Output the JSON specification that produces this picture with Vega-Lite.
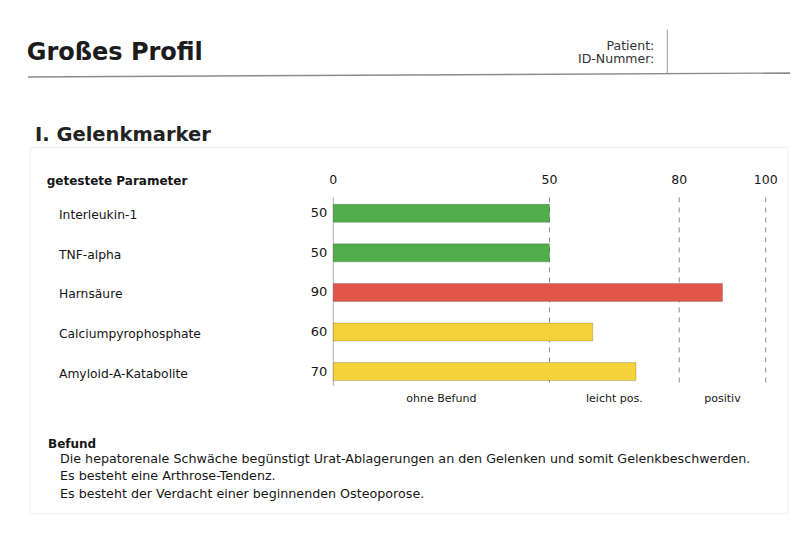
{
  "$schema": "https://vega.github.io/schema/vega-lite/v6.json",
  "description": "Großes Profil – I. Gelenkmarker: tested joint markers scored 0–100 with result zones.",
  "width": 800,
  "height": 544,
  "autosize": {"type": "none"},
  "padding": 0,
  "background": "white",
  "config": {
    "view": {"stroke": null},
    "axis": {"disable": true},
    "legend": {"disable": true},
    "text": {"font": "DejaVu Sans", "color": "#161616"}
  },
  "datasets": {
    "page": [{}],
    "params": [
      {"param": "Interleukin-1", "row": 1, "value": 50, "befund": "ohne Befund"},
      {"param": "TNF-alpha", "row": 2, "value": 50, "befund": "ohne Befund"},
      {"param": "Harnsäure", "row": 3, "value": 90, "befund": "positiv"},
      {"param": "Calciumpyrophosphate", "row": 4, "value": 60, "befund": "leicht pos."},
      {"param": "Amyloid-A-Katabolite", "row": 5, "value": 70, "befund": "leicht pos."}
    ],
    "ticks": [{"tick": 0}, {"tick": 50}, {"tick": 80}, {"tick": 100}],
    "zones": [
      {"zone": "ohne Befund", "from": 0, "to": 50},
      {"zone": "leicht pos.", "from": 50, "to": 80},
      {"zone": "positiv", "from": 80, "to": 100}
    ]
  },
  "data": {"name": "page"},
  "layer": [
    {
      "mark": {"type": "rect", "fill": "transparent", "stroke": "#efefef", "strokeWidth": 1},
      "encoding": {
        "x": {"datum": -70.1, "type": "quantitative", "scale": {"domain": [-77.08, 107.93], "nice": false, "zero": false}},
        "x2": {"datum": 105.2},
        "y": {"datum": -0.67, "type": "quantitative", "scale": {"domain": [-4.2642, 9.2312], "nice": false, "zero": false, "reverse": true}},
        "y2": {"datum": 8.59}
      }
    },
    {
      "mark": {"type": "text", "text": "Großes Profil", "font": "DejaVu Sans", "fontWeight": "bold", "fontSize": 24, "align": "left", "baseline": "alphabetic", "color": "#1c1c1c"},
      "encoding": {
        "x": {"datum": -70.91, "type": "quantitative"},
        "y": {"datum": -2.882, "type": "quantitative"}
      }
    },
    {
      "mark": {"type": "rule", "color": "#8a8a8a", "strokeWidth": 1.4},
      "encoding": {
        "x": {"datum": -70.6, "type": "quantitative"},
        "x2": {"datum": 105.62},
        "y": {"datum": -2.446, "type": "quantitative"},
        "y2": {"datum": -2.545}
      }
    },
    {
      "mark": {"type": "rule", "color": "#a0a0a0", "strokeWidth": 1},
      "encoding": {
        "x": {"datum": 77.24, "type": "quantitative"},
        "y": {"datum": -3.644, "type": "quantitative"},
        "y2": {"datum": -2.545}
      }
    },
    {
      "mark": {"type": "text", "text": ["Patient:", "ID-Nummer:"], "fontSize": 12.5, "lineHeight": 13.6, "align": "right", "baseline": "alphabetic", "color": "#333"},
      "encoding": {
        "x": {"datum": 74.24, "type": "quantitative"},
        "y": {"datum": -3.13, "type": "quantitative"}
      }
    },
    {
      "mark": {"type": "text", "text": "I. Gelenkmarker", "fontWeight": "bold", "fontSize": 19.5, "align": "left", "baseline": "alphabetic", "color": "#222"},
      "encoding": {
        "x": {"datum": -68.99, "type": "quantitative"},
        "y": {"datum": -0.833, "type": "quantitative"}
      }
    },
    {
      "mark": {"type": "text", "text": "getestete Parameter", "fontWeight": "bold", "fontSize": 12, "align": "left", "baseline": "alphabetic"},
      "encoding": {
        "x": {"datum": -66.28, "type": "quantitative"},
        "y": {"datum": 0.283, "type": "quantitative"}
      }
    },
    {
      "data": {"name": "ticks"},
      "mark": {"type": "rule", "strokeWidth": 1},
      "encoding": {
        "x": {"field": "tick", "type": "quantitative"},
        "y": {"datum": 0.598, "type": "quantitative"},
        "y2": {"datum": 5.361},
        "color": {"condition": {"test": "datum.tick === 0", "value": "#9a9a9a"}, "value": "#8c8c8c"},
        "strokeDash": {"condition": {"test": "datum.tick === 0", "value": [1, 0]}, "value": [5, 5]}
      }
    },
    {
      "data": {"name": "ticks"},
      "mark": {"type": "text", "fontSize": 12.5, "align": "center", "baseline": "alphabetic"},
      "encoding": {
        "x": {"field": "tick", "type": "quantitative"},
        "y": {"datum": 0.27, "type": "quantitative"},
        "text": {"field": "tick", "type": "quantitative"}
      }
    },
    {
      "data": {"name": "params"},
      "mark": {"type": "bar", "orient": "horizontal", "size": 18, "stroke": "#000", "strokeOpacity": 0.18, "strokeWidth": 1},
      "encoding": {
        "x": {"field": "value", "type": "quantitative"},
        "x2": {"datum": 0},
        "y": {"field": "row", "type": "quantitative"},
        "color": {
          "field": "befund",
          "type": "nominal",
          "scale": {"domain": ["ohne Befund", "leicht pos.", "positiv"], "range": ["#4fae4a", "#f3d23a", "#e2564a"]},
          "legend": null
        }
      }
    },
    {
      "data": {"name": "params"},
      "mark": {"type": "text", "fontSize": 12.3, "align": "left", "baseline": "middle", "dy": 2},
      "encoding": {
        "x": {"datum": -63.44, "type": "quantitative"},
        "y": {"field": "row", "type": "quantitative"},
        "text": {"field": "param", "type": "nominal"}
      }
    },
    {
      "data": {"name": "params"},
      "mark": {"type": "text", "fontSize": 13, "align": "right", "baseline": "middle", "dx": -6},
      "encoding": {
        "x": {"datum": 0, "type": "quantitative"},
        "y": {"field": "row", "type": "quantitative"},
        "text": {"field": "value", "type": "quantitative"}
      }
    },
    {
      "data": {"name": "zones"},
      "transform": [
        {"fold": ["from", "to"], "as": ["edge", "score"]},
        {"aggregate": [{"op": "mean", "field": "score", "as": "center"}], "groupby": ["zone"]}
      ],
      "mark": {"type": "text", "fontSize": 11, "align": "center", "baseline": "middle"},
      "encoding": {
        "x": {"field": "center", "type": "quantitative"},
        "y": {"datum": 5.684, "type": "quantitative"},
        "text": {"field": "zone", "type": "nominal"}
      }
    },
    {
      "mark": {"type": "text", "text": "Befund", "fontWeight": "bold", "fontSize": 12, "align": "left", "baseline": "alphabetic"},
      "encoding": {
        "x": {"datum": -65.98, "type": "quantitative"},
        "y": {"datum": 6.937, "type": "quantitative"}
      }
    },
    {
      "mark": {
        "type": "text",
        "text": [
          "Die hepatorenale Schwäche begünstigt Urat-Ablagerungen an den Gelenken und somit Gelenkbeschwerden.",
          "Es besteht eine Arthrose-Tendenz.",
          "Es besteht der Verdacht einer beginnenden Osteoporose."
        ],
        "fontSize": 12.7,
        "lineHeight": 17.5,
        "align": "left",
        "baseline": "alphabetic"
      },
      "encoding": {
        "x": {"datum": -63.21, "type": "quantitative"},
        "y": {"datum": 7.309, "type": "quantitative"}
      }
    }
  ]
}
